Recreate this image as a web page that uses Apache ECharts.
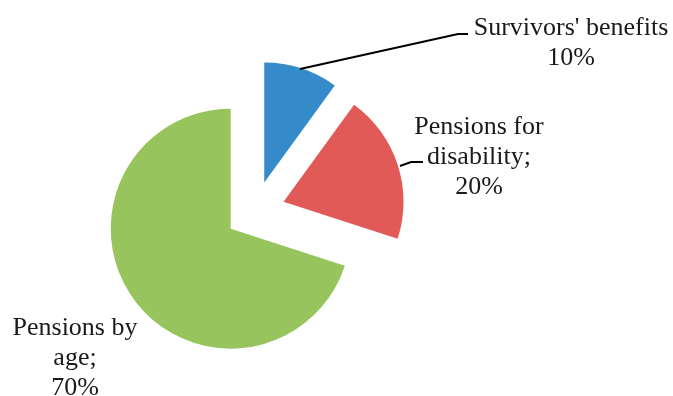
<!DOCTYPE html>
<html>
<head>
<meta charset="utf-8">
<script src="https://cdn.jsdelivr.net/npm/echarts@6/dist/echarts.min.js"></script>
<style>html,body{margin:0;padding:0;background:#fff;}#c{width:673px;height:396px;}</style>
</head>
<body>
<div id="c"></div>
<script>
var categories = ["Survivors' benefits", "Pensions for disability", "Pensions by age"];
var values = [10, 20, 70];
var labelTexts = ["Survivors' benefits\n10%", "Pensions for\ndisability;\n20%", "Pensions by\nage;\n70%"];
var colors = ['#358BC9', '#E15A57', '#97C45C'];

var chart = echarts.init(document.getElementById('c'));
var labelPlaces = [
  {x: 571, y: 43, line: [[300, 69], [458, 34], [468, 34]]},
  {x: 479, y: 157, line: [[400, 166], [411, 162], [423, 162]]},
  {x: 75, y: 358, line: null}
];
var common = {
  type: 'pie',
  center: [255, 211],
  radius: [0, 120],
  startAngle: 90,
  clockwise: true,
  emphasis: {disabled: true}
};
chart.setOption({
  animation: false,
  backgroundColor: '#fff',
  series: [
    Object.assign({}, common, {
      selectedMode: 'multiple',
      selectedOffset: 30,
      label: {show: false},
      labelLine: {show: false},
      data: categories.map(function (c, i) {
        return {name: c, value: values[i], selected: true, itemStyle: {color: colors[i]}};
      })
    }),
    Object.assign({}, common, {
      silent: true,
      selectedMode: false,
      z: 3,
      itemStyle: {opacity: 0},
      label: {
        show: true,
        formatter: function (p) { return labelTexts[p.dataIndex]; },
        fontFamily: 'Liberation Serif',
        fontSize: 26,
        lineHeight: 30,
        color: '#1a1a1a',
        align: 'center',
        overflow: 'none',
        opacity: 1
      },
      labelLine: {show: true, lineStyle: {color: '#000', width: 2, opacity: 1}},
      labelLayout: function (p) {
        var lp = labelPlaces[p.dataIndex];
        var o = {x: lp.x, y: lp.y, align: 'center', verticalAlign: 'middle', hideOverlap: false};
        if (lp.line) o.labelLinePoints = lp.line;
        return o;
      },
      data: categories.map(function (c, i) {
        return {name: c, value: values[i], labelLine: {show: i < 2}};
      })
    })
  ]
});
</script>
</body>
</html>
